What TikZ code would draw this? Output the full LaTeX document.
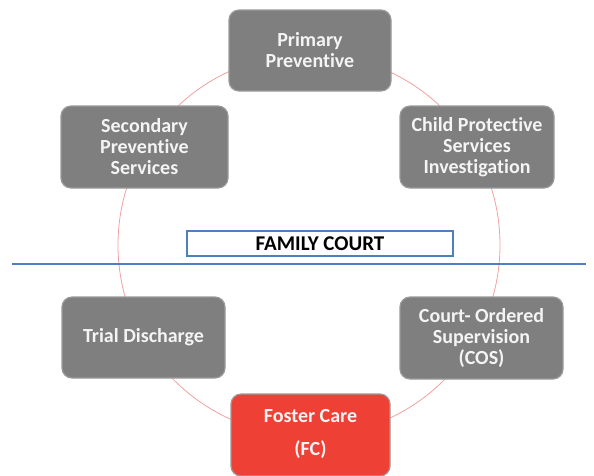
\documentclass[tikz,border=0pt]{standalone}
\usepackage{fontspec}
\setmainfont[Ligatures={NoCommon}]{Carlito}
\definecolor{boxgray}{HTML}{7F7F7F}
\definecolor{boxedge}{HTML}{9A9A9A}
\definecolor{fcred}{HTML}{EE4035}
\definecolor{ringred}{HTML}{F2A0A0}
\definecolor{courtblue}{HTML}{4F7FC0}
\definecolor{txtwhite}{HTML}{F4F4F4}
\tikzset{
  stage/.style={draw=boxedge, line width=1.2pt, fill=boxgray, rounded corners=10pt,
    text=txtwhite, font=\fontsize{20}{21}\selectfont\bfseries, align=center,
    anchor=center, inner sep=0pt},
  ring/.style={draw=ringred, line width=0.8pt},
}
\begin{document}
\begin{tikzpicture}[x=1pt,y=-1pt]
\useasboundingbox (0,0) rectangle (594,475);
\coordinate (ctr) at (309,245);
\draw[ring] (ctr) circle[radius=191];
\node[stage, minimum width=162, minimum height=81] (pp) at (310,50.5) {Primary\\Preventive};
\node[stage, minimum width=167, minimum height=82] (sp) at (144.5,147) {Secondary\\Preventive\\Services};
\node[stage, minimum width=154, minimum height=82] (cp) at (477,147) {Child Protective\\Services\\Investigation};
\node[draw=courtblue, line width=1.5pt, fill=white, minimum width=266, minimum height=25, inner sep=0pt,
  font=\fontsize{21}{21}\selectfont\bfseries] (fam) at (320,243.5) {FAMILY COURT};
\coordinate (ll) at (12,264);
\coordinate (lr) at (586,264);
\draw[courtblue, line width=1.8pt] (ll) -- (lr);
\node[stage, minimum width=163, minimum height=81] (td) at (143.5,337.5) {Trial Discharge};
\node[stage, minimum width=163, minimum height=82] (cos) at (481.5,338) {Court- Ordered\\Supervision\\(COS)};
\node[stage, fill=fcred, minimum width=159, minimum height=82, font=\fontsize{20}{33}\selectfont\bfseries,
  text depth=6pt] (fc) at (310.5,435) {Foster Care\\(FC)};
\end{tikzpicture}
\end{document}
